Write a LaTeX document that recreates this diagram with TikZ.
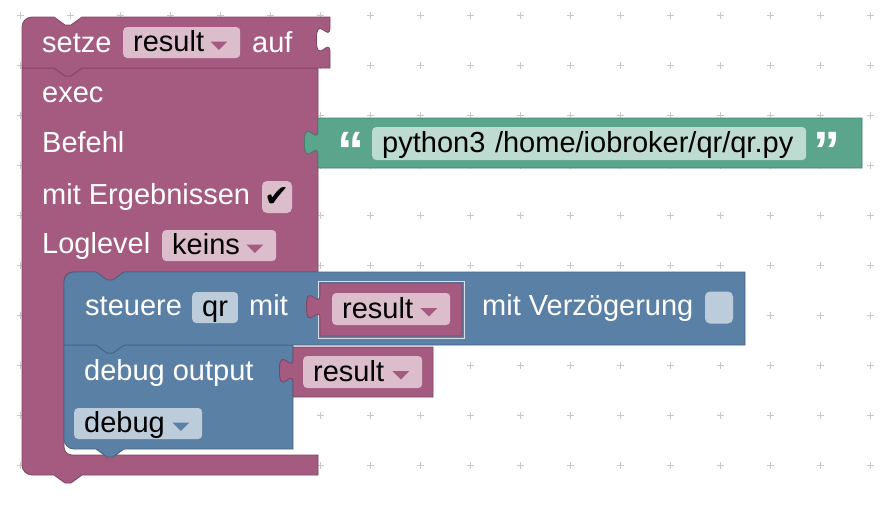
\documentclass[tikz,border=0pt]{standalone}
\usepackage{fontspec}
\setmainfont{Liberation Sans}
\newfontfamily\symbolfont{DejaVu Sans}
\usepackage{tikz}
\usetikzlibrary{positioning}

\definecolor{varpurple}{HTML}{A55B80}
\definecolor{varpurpledark}{HTML}{7F4563}
\definecolor{varpurplefield}{HTML}{DBBDCC}
\definecolor{procblue}{HTML}{5B80A5}
\definecolor{procbluedark}{HTML}{46627F}
\definecolor{procbluefield}{HTML}{BDCCDB}
\definecolor{textgreen}{HTML}{5BA58C}
\definecolor{textgreendark}{HTML}{467F6B}
\definecolor{textgreenfield}{HTML}{BDDBD1}
\definecolor{gridgray}{HTML}{C8C8C8}

% puzzle tab, going down a right edge / up a left edge
\newcommand{\tabdown}[2]{-- (#1,#2) .. controls (#1,{#2+17}) and ({#1-13.6},{#2-13.6}) .. ({#1-13.6},{#2+12.75}) .. controls ({#1-13.6},{#2+39.1}) and (#1,{#2+8.5}) .. (#1,{#2+25.5})}
\newcommand{\tabup}[2]{-- (#1,{#2+25.5}) .. controls (#1,{#2+8.5}) and ({#1-13.6},{#2+39.1}) .. ({#1-13.6},{#2+12.75}) .. controls ({#1-13.6},{#2-13.6}) and (#1,{#2+17}) .. (#1,#2)}
% statement notch, left to right / right to left
\newcommand{\notchdown}[2]{-- (#1,#2) -- ({#1+11},{#2+8}) -- ({#1+17},{#2+8}) -- ({#1+28},#2)}
\newcommand{\notchback}[2]{-- ({#1+28},#2) -- ({#1+17},{#2+8}) -- ({#1+11},{#2+8}) -- (#1,#2)}
% dropdown arrow in a field
\newcommand{\ddarrow}[2]{\fill[#2] ([xshift=-30pt,yshift=1pt]#1.east) -- ++(17,0) -- ++(-8.5,8.5) -- cycle;}

\begin{document}
\begin{tikzpicture}[x=1pt, y=-1pt,
  font=\fontsize{29}{34}\selectfont,
  varblock/.style={fill=varpurple, draw=varpurpledark, line width=0.8pt},
  procblock/.style={fill=procblue, draw=procbluedark, line width=0.8pt},
  textblock/.style={fill=textgreen, draw=textgreendark, line width=0.8pt},
  blocktext/.style={text=white, anchor=base west, inner sep=0pt},
  field/.style={rounded corners=4pt, inner xsep=10pt, inner ysep=0pt, text height=20pt, text depth=2pt, anchor=west, align=left, text=black},
  checkbox/.style={rounded corners=5pt, minimum width=30pt, minimum height=32pt, inner sep=0pt},
  quotemark/.style={text=white, anchor=base, inner sep=0pt, font=\fontsize{54}{54}\selectfont\bfseries},
  gridmark/.style={draw=gridgray, line width=1pt},
]
\useasboundingbox (0,0) rectangle (882,506);

% Grid
\foreach \gx in {20,70,...,870}
  \foreach \gy in {15,65,...,465}
    \draw[gridmark] (\gx-3.5,\gy) -- (\gx+3.5,\gy) (\gx,\gy-3.5) -- (\gx,\gy+3.5);

% Blocks
\filldraw[varblock] (22,68) \notchdown{54}{68} -- (318,68) \tabdown{318}{130} -- (318,272) \notchback{96}{272} -- (72,272) .. controls (67.6,272) and (64,275.6) .. (64,280) -- (64,447) .. controls (64,451.4) and (67.6,455) .. (72,455) -- (318,455) -- (318,475) \notchback{54}{475} -- (32,475) .. controls (26.5,475) and (22,470.5) .. (22,465) -- cycle;
\filldraw[varblock] (22,68) -- (22,27) .. controls (22,21.5) and (26.5,17) .. (32,17) \notchdown{54}{17} -- (330,17) \tabdown{330}{27} -- (330,68) \notchback{54}{68} -- cycle;
\filldraw[textblock] (318,118) -- (862,118) -- (862,168) -- (318,168) \tabup{318}{130} -- cycle;
\filldraw[procblock] (64,345) \notchdown{96}{345} -- (293,345) \tabdown{293}{358} -- (293,449) \notchback{96}{449} -- (74,449) .. controls (68.5,449) and (64,444.5) .. (64,439) -- cycle;
\filldraw[procblock] (64,345) -- (64,282) .. controls (64,276.5) and (68.5,272) .. (74,272) \notchdown{96}{272} -- (745,272) -- (745,345) \notchback{96}{345} -- cycle;
\draw[white!75!procblue, line width=1pt] (318,281) rectangle (464,338);
\filldraw[varblock] (320,283) -- (462,283) -- (462,336) -- (320,336) \tabup{320}{294} -- cycle;
\filldraw[varblock] (293,347) -- (433,347) -- (433,397) -- (293,397) \tabup{293}{358} -- cycle;

% Fields
\node[field, fill=varpurplefield, minimum height=31pt, text width=97pt] (setvar) at (123,42.5) {result};
\ddarrow{setvar}{varpurple}
\node[field, fill=varpurplefield, minimum height=31pt, text width=94pt] (loglevel) at (162,245.5) {keins};
\ddarrow{loglevel}{varpurple}
\node[checkbox, fill=varpurplefield] (withresult) at (277,197) {\symbolfont\fontsize{30}{30}\selectfont ✔};
\node[field, fill=textgreenfield, minimum height=33pt, text width=414pt] (command) at (372,143.5) {python3 /home/iobroker/qr/qr.py};
\node[quotemark] (openquote) at (351,169) {“};
\node[quotemark] (closequote) at (827,169) {”};
\node[field, fill=procbluefield, minimum height=31pt] (device) at (192,307.5) {qr};
\node[field, fill=varpurplefield, minimum height=32pt, text width=98pt] (ctrlvalue) at (332,309) {result};
\ddarrow{ctrlvalue}{varpurple}
\node[checkbox, fill=procbluefield, minimum width=28pt] (withdelay) at (719,307.5) {};
\node[field, fill=varpurplefield, minimum height=32pt, text width=99pt] (debugvalue) at (303,372) {result};
\ddarrow{debugvalue}{varpurple}
\node[field, fill=procbluefield, minimum height=31pt, text width=108pt] (debuglevel) at (74,423.5) {debug};
\ddarrow{debuglevel}{procblue}

% Texts
\node[blocktext] (setlabel) at (42,52) {setze};
\node[blocktext] (auflabel) at (252,52) {auf};
\node[blocktext] (execlabel) at (42,102) {exec};
\node[blocktext] (cmdlabel) at (42,152) {Befehl};
\node[blocktext] (resultlabel) at (42,204) {mit Ergebnissen};
\node[blocktext] (levellabel) at (42,253) {Loglevel};
\node[blocktext] (ctrllabel) at (85,315) {steuere};
\node[blocktext] (withlabel) at (249,315) {mit};
\node[blocktext] (delaylabel) at (482,315) {mit Verzögerung};
\node[blocktext] (debuglabel) at (84,380) {debug output};

\end{tikzpicture}
\end{document}
